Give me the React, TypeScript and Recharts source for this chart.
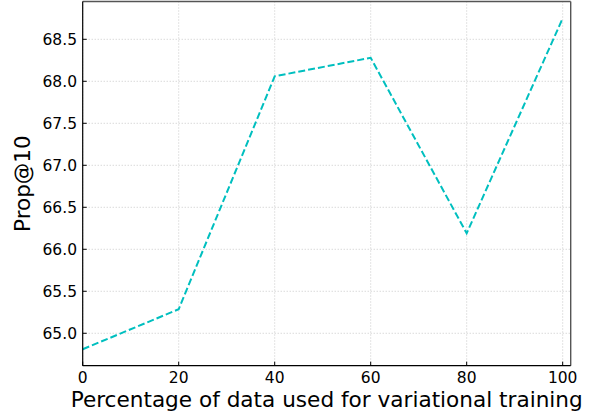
import React from "react";
import { LineChart, Line, XAxis, YAxis, CartesianGrid, ReferenceLine } from "recharts";

const percentages = [0, 20, 40, 60, 80, 100];
const propAt10 = [64.81, 65.286, 68.06, 68.28, 66.19, 68.75];
const xTicks = [0, 20, 40, 60, 80, 100];
const yTicks = [65.0, 65.5, 66.0, 66.5, 67.0, 67.5, 68.0, 68.5];

const data = percentages.map((p, i) => ({ p, v: propAt10[i] }));

const FONT = "DejaVu Sans, sans-serif";
const X_MAX = 101.67;
const Y_MIN = 64.614;
const Y_MAX = 68.95;

const XTick = (props: any) => {
  const { x, y, payload } = props;
  return (
    <g>
      <line x1={x} x2={x} y1={y} y2={y - 4} stroke="#000" strokeWidth={1} />
      <text x={x} y={y + 17.6} textAnchor="middle" fontSize={15.5} fontFamily={FONT} fill="#000">
        {payload.value}
      </text>
    </g>
  );
};

const YTick = (props: any) => {
  const { x, y, payload } = props;
  return (
    <g>
      <line x1={x} x2={x + 4} y1={y} y2={y} stroke="#000" strokeWidth={1} />
      <text x={x - 5.7} y={y + 5.6} textAnchor="end" fontSize={15.5} fontFamily={FONT} fill="#000">
        {Number(payload.value).toFixed(1)}
      </text>
    </g>
  );
};

export default function App() {
  return (
    <div style={{ position: "absolute", left: 0, top: 0, width: 598, height: 418, background: "#fff" }}>
      <LineChart
        width={598}
        height={418}
        data={data}
        margin={{ top: 1.5, right: 27.3, left: 0, bottom: 0 }}
      >
        <CartesianGrid
          stroke="#c8c8c8"
          strokeDasharray="1 2"
          verticalValues={xTicks}
          horizontalValues={yTicks}
        />
        <XAxis
          dataKey="p"
          type="number"
          domain={[0, X_MAX]}
          ticks={xTicks}
          height={52.3}
          tickLine={false}
          tickSize={0}
          tickMargin={0}
          axisLine={{ stroke: "#000", strokeWidth: 1.2 }}
          tick={<XTick />}
          interval={0}
          allowDataOverflow
          label={{
            value: "Percentage of data used for variational training",
            position: "insideBottom",
            offset: 11,
            style: { fontSize: 21.6, fontFamily: FONT, fill: "#000" },
          }}
        />
        <YAxis
          type="number"
          domain={[Y_MIN, Y_MAX]}
          ticks={yTicks}
          width={82.7}
          tickLine={false}
          tickSize={0}
          tickMargin={0}
          axisLine={{ stroke: "#000", strokeWidth: 1.2 }}
          tick={<YTick />}
          interval={0}
          allowDataOverflow
          label={{
            value: "Prop@10",
            angle: -90,
            position: "insideLeft",
            offset: 22,
            style: { fontSize: 21.5, fontFamily: FONT, fill: "#000", textAnchor: "middle" },
          }}
        />
        <ReferenceLine y={Y_MAX} stroke="#555" strokeWidth={1.4} ifOverflow="visible" />
        <ReferenceLine x={X_MAX} stroke="#555" strokeWidth={1.4} ifOverflow="visible" />
        <Line
          type="linear"
          dataKey="v"
          stroke="#00bfbf"
          strokeWidth={2}
          strokeDasharray="7 3"
          dot={false}
          isAnimationActive={false}
        />
      </LineChart>
    </div>
  );
}
